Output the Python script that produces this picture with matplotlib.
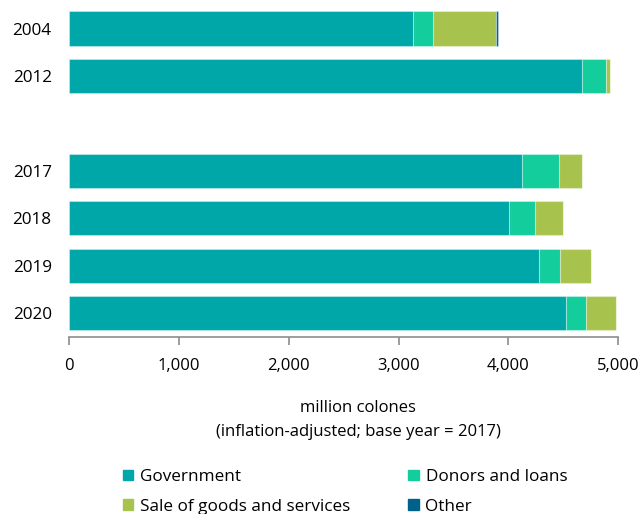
"""Hospital revenue by source, stacked horizontal bars."""
import matplotlib
matplotlib.use('Agg')
from matplotlib import pyplot as plt
from matplotlib.patches import Patch
import numpy as np

years = ['2004', '2012', '2017', '2018', '2019', '2020']
positions = [0, 1, 3, 4, 5, 6]

government = [3127, 4666, 4120, 4010, 4283, 4526]
donors = [191, 218, 343, 228, 189, 183]
sales = [571, 37, 209, 258, 276, 270]
other = [18, 0, 0, 0, 0, 0]

series = [
    ('Government', government, '#00a7a8'),
    ('Donors and loans', donors, '#13cd9d'),
    ('Sale of goods and services', sales, '#a8c34d'),
    ('Other', other, '#00618a'),
]

plt.rcParams['font.family'] = ['Open Sans', 'DejaVu Sans']
plt.rcParams['font.size'] = 12

fig = plt.figure(figsize=(6.42, 5.14), dpi=100)
ax = fig.add_axes([0.1075, 0.3444, 0.8555, 0.6463])

left = np.zeros(len(years))
for name, vals, color in series:
    vals = np.array(vals, dtype=float)
    ax.barh(positions, vals, left=left, height=0.72, color=color,
            edgecolor=(1, 1, 1, 0.35), linewidth=0.8, label=name)
    left += vals

ax.set_xlim(0, 5000)
ax.set_ylim(6.5, -0.5)
ax.set_xticks(range(0, 5001, 1000))
ax.set_xticklabels(['{:,}'.format(v) for v in range(0, 5001, 1000)])
ax.set_yticks(positions)
ax.set_yticklabels(years)

for s in ['top', 'right', 'left']:
    ax.spines[s].set_visible(False)
ax.spines['bottom'].set_color('#8c8c8c')
ax.spines['bottom'].set_linewidth(1.2)
ax.tick_params(axis='x', length=6, width=1.2, color='#8c8c8c', pad=9,
               labelsize=12)
ax.tick_params(axis='y', length=0, pad=12.5, labelsize=12.3)

fig.text(358 / 642, 1 - 408 / 514, 'million colones', ha='center',
         va='center', fontsize=12)
fig.text(358 / 642, 1 - 432 / 514, '(inflation-adjusted; base year = 2017)',
         ha='center', va='center', fontsize=12)

handles = [Patch(color=c) for _, _, c in series]
labels = [n for n, _, _ in series]
order = [0, 2, 1, 3]
fig.legend([handles[i] for i in order], [labels[i] for i in order],
           loc='upper left', bbox_to_anchor=(123 / 642, 1 - 469 / 514),
           ncol=2, frameon=False, fontsize=12.3, handlelength=0.6,
           handleheight=0.6, handletextpad=0.4, labelspacing=0.8,
           columnspacing=3.4, borderpad=0, borderaxespad=0)

fig.savefig('out.png', dpi=100)
